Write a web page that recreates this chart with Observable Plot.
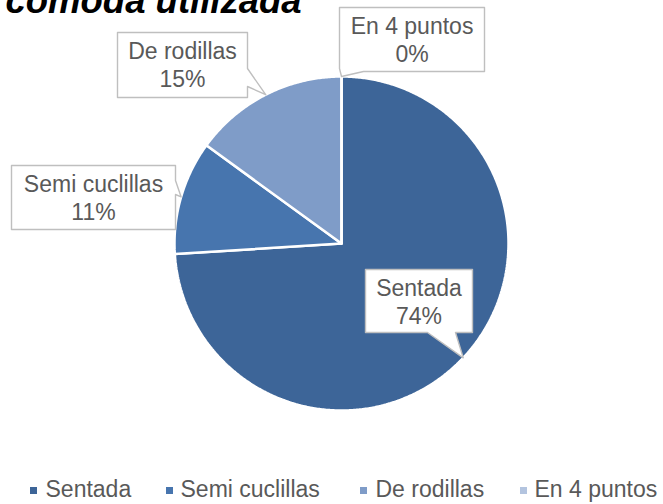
<!DOCTYPE html>
<html><head><meta charset="utf-8">
<script src="https://cdn.jsdelivr.net/npm/d3@7"></script>
<script src="https://cdn.jsdelivr.net/npm/@observablehq/plot@0.6"></script>
<style>body{margin:0;background:#fff;overflow:hidden}#chart svg{display:block}</style>
</head><body><div id="chart"></div>
<script>
// ---- data ----
const titleText = "cómoda utilizada";
const categories = ["Sentada", "Semi cuclillas", "De rodillas", "En 4 puntos"];
const percents = [74, 11, 15, 0];
const percentLabels = ["74%", "11%", "15%", "0%"];
const colors = ["#3D6598", "#4775AE", "#7F9CC8", "#B3C4DF"];

// ---- layout ----
const W = 663, H = 504, CX = 341, CY = 243, R = 167;
const FONT = "Liberation Sans, Arial, sans-serif";
const labelColor = "#595959";
// callout boxes: [x1, y1, x2, y2], tail side and tail base span
const boxes = [
  {box: [365, 269, 472, 332], side: "bottom", t: [455, 427]},
  {box: [11, 165, 175, 229], side: "right", t: [180, 194]},
  {box: [117, 32, 247, 97], side: "right", t: [68, 86]},
  {box: [339, 7, 484, 71], side: "bottomleft", t: [363, 68]}
];
const legendSquareX = [30, 166, 360, 520];
const legendTextX = [45, 180, 375, 534];
const legendY = 490.5;

// ---- pie geometry ----
const arcs = d3.pie().sort(null).value(d => d)(percents);
const pt = (a, r = R) => ({x: CX + r * Math.sin(a), y: CY - r * Math.cos(a)});
const sliceMarks = arcs.map((a, i) => {
  const n = Math.max(2, Math.ceil((a.endAngle - a.startAngle) / (Math.PI / 360)));
  const pts = [{x: CX, y: CY}];
  for (let k = 0; k <= n; k++) pts.push(pt(a.startAngle + (a.endAngle - a.startAngle) * k / n));
  pts.push({x: CX, y: CY});
  return Plot.line(pts, {x: "x", y: "y", fill: colors[i], stroke: "white", strokeWidth: 2.5, strokeLinejoin: "miter"});
});

// ---- callouts ----
const calloutMarks = [];
const textRows = [];
boxes.forEach((b, i) => {
  const [x1, y1, x2, y2] = b.box;
  const a = arcs[i];
  const tip = pt((a.startAngle + a.endAngle) / 2);
  let poly;
  if (b.side === "bottom") {
    poly = [[x1, y1], [x2, y1], [x2, y2], [b.t[0], y2], [tip.x, tip.y], [b.t[1], y2], [x1, y2], [x1, y1]];
  } else if (b.side === "right") {
    poly = [[x1, y1], [x2, y1], [x2, b.t[0]], [tip.x, tip.y], [x2, b.t[1]], [x2, y2], [x1, y2], [x1, y1]];
  } else {
    poly = [[x1, y1], [x2, y1], [x2, y2], [b.t[0], y2], [tip.x, tip.y], [x1, b.t[1]], [x1, y1]];
  }
  calloutMarks.push(Plot.line(poly.map(([x, y]) => ({x, y})), {x: "x", y: "y", fill: "white", stroke: "#BFBFBF", strokeWidth: 1.4}));
  const cx = (x1 + x2) / 2;
  textRows.push({x: cx, y: y1 + 26.5 - 7.4, t: categories[i]});
  textRows.push({x: cx, y: y1 + 55 - 7.4, t: percentLabels[i]});
});

const legendRows = categories.map((c, i) => ({c, color: colors[i], sx: legendSquareX[i], tx: legendTextX[i]}));

const chart = Plot.plot({
  width: W, height: H, margin: 0,
  x: {domain: [0, W], range: [0, W], axis: null},
  y: {domain: [0, H], range: [0, H], axis: null},
  style: {background: "white"},
  marks: [
    Plot.text([titleText], {x: 5, y: 1, text: d => d, textAnchor: "start", fontSize: 36.5, fontWeight: "bold", fontStyle: "italic", fill: "black", fontFamily: FONT}),
    ...sliceMarks,
    ...calloutMarks,
    Plot.text(textRows, {x: "x", y: "y", text: "t", fontSize: 23, fill: labelColor, fontFamily: FONT, textAnchor: "middle"}),
    Plot.rect(legendRows, {x1: "sx", x2: d => d.sx + 7, y1: legendY - 3.5, y2: legendY + 3.5, fill: "color"}),
    Plot.text(legendRows, {x: "tx", y: legendY - 1.2, text: "c", fontSize: 23, fill: labelColor, fontFamily: FONT, textAnchor: "start"})
  ]
});
document.getElementById("chart").appendChild(chart);
</script>
</body></html>
